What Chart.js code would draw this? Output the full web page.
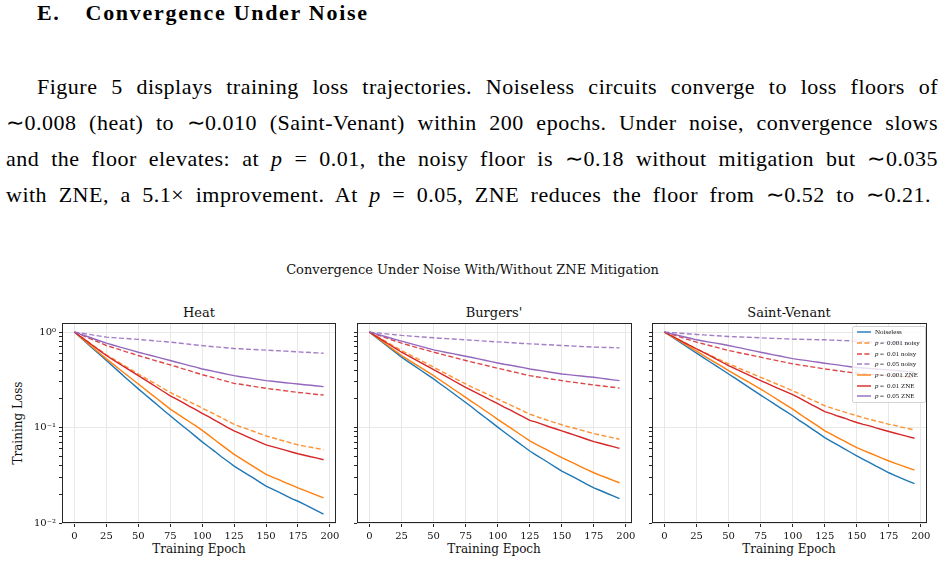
<!DOCTYPE html>
<html>
<head>
<meta charset="utf-8">
<script src="https://cdn.jsdelivr.net/npm/chart.js@4.4.1/dist/chart.umd.min.js"></script>
<style>
body { margin:0; width:945px; height:564px; background:#fff; position:relative; overflow:hidden; color:#000; }
.t { position:absolute; white-space:nowrap; }
.para { position:absolute; font-family:'Liberation Serif', serif; font-size:22px; line-height:36px; letter-spacing:0.5px; text-align:justify; text-align-last:justify; }
.fig { font-family:'DejaVu Serif', serif; color:#111; }
canvas { position:absolute; }
#legend { position:absolute; left:852px; top:326px; width:72px; height:75px; background:rgba(255,255,255,0.8);
  border:1px solid #d4d4d4; border-radius:2px; font-family:'Liberation Serif', serif; font-size:7px; color:#111; z-index:5; }
#legend .row { height:10.7px; display:flex; align-items:center; }
#legend svg { margin-left:4px; margin-right:4px; }
</style>
</head>
<body>

<div class="t" style="left:37px;top:0;line-height:30px;font:bold 22px 'Liberation Serif',serif;letter-spacing:1.7px">E.<span style="margin-left:25px">Convergence Under Noise</span></div>

<div class="para" style="left:37px;top:69px;width:901px">Figure 5 displays training loss trajectories. Noiseless circuits converge to loss floors of</div>
<div class="para" style="left:6px;top:105px;width:932px">∼0.008 (heat) to ∼0.010 (Saint-Venant) within 200 epochs. Under noise, convergence slows</div>
<div class="para" style="left:6px;top:141px;width:932px">and the floor elevates: at <i>p</i> = 0.01, the noisy floor is ∼0.18 without mitigation but ∼0.035</div>
<div class="para" style="left:6px;top:177px;width:925px">with ZNE, a 5.1× improvement. At <i>p</i> = 0.05, ZNE reduces the floor from ∼0.52 to ∼0.21.</div>

<div class="t fig" style="left:0;width:945px;text-align:center;top:262px;line-height:16px;font-size:13px">Convergence Under Noise With/Without ZNE Mitigation</div>

<div class="t fig" style="left:149px;width:100px;text-align:center;top:305px;line-height:16px;font-size:13px">Heat</div>
<div class="t fig" style="left:444px;width:100px;text-align:center;top:305px;line-height:16px;font-size:13px">Burgers'</div>
<div class="t fig" style="left:739px;width:100px;text-align:center;top:305px;line-height:16px;font-size:13px">Saint-Venant</div>

<div class="t fig" style="left:-42px;width:120px;text-align:center;top:415px;line-height:16px;font-size:12px;transform:rotate(-90deg)">Training Loss</div>
<div class="t fig" style="left:139px;width:120px;text-align:center;top:541px;line-height:16px;font-size:12px">Training Epoch</div>
<div class="t fig" style="left:434px;width:120px;text-align:center;top:541px;line-height:16px;font-size:12px">Training Epoch</div>
<div class="t fig" style="left:729px;width:120px;text-align:center;top:541px;line-height:16px;font-size:12px">Training Epoch</div>

<canvas id="heat" width="326" height="234" style="left:22px;top:313px"></canvas>
<canvas id="burgers" width="327" height="234" style="left:317px;top:313px"></canvas>
<canvas id="sv" width="327" height="234" style="left:612px;top:313px"></canvas>
<div id="legend"></div>

<script>
const epochs = [0,5,10,15,20,25,30,35,40,45,50,55,60,65,70,75,80,85,90,95,100,105,110,115,120,125,130,135,140,145,150,155,160,165,170,175,180,185,190,195];
const xTicks = [0,25,50,75,100,125,150,175,200];
const yTicks = [0.01,0.02,0.03,0.04,0.05,0.06,0.07,0.08,0.09,0.1,0.2,0.3,0.4,0.5,0.6,0.7,0.8,0.9,1];
const yMajorLabels = {1: '10⁰', 0.1: '10⁻¹', 0.01: '10⁻²'};
const seriesNames = ['Noiseless','p = 0.001 noisy','p = 0.01 noisy','p = 0.05 noisy','p = 0.001 ZNE','p = 0.01 ZNE','p = 0.05 ZNE'];
const colors = ['#1f77b4','rgba(255,127,14,0.85)','rgba(214,39,40,0.85)','rgba(148,103,189,0.85)','#ff7f0e','#d62728','#9467bd'];
const dashed = [false,true,true,true,false,false,false];

// Heat
const heatNoiseless = [1.000,0.871,0.760,0.662,0.578,0.504,0.439,0.383,0.333,0.291,0.254,0.223,0.196,0.172,0.151,0.133,0.117,0.103,0.0915,0.0803,0.0708,0.0630,0.0560,0.0494,0.0444,0.0394,0.0358,0.0325,0.0297,0.0268,0.0243,0.0226,0.0210,0.0195,0.0180,0.0169,0.0157,0.0145,0.0134,0.0124];
const heatNoisy001 = [1.000,0.896,0.802,0.719,0.644,0.577,0.526,0.480,0.438,0.399,0.364,0.333,0.305,0.279,0.255,0.233,0.216,0.201,0.186,0.173,0.160,0.148,0.137,0.127,0.117,0.108,0.102,0.0968,0.0914,0.0865,0.0817,0.0782,0.0748,0.0718,0.0687,0.0658,0.0638,0.0621,0.0603,0.0586];
const heatNoisy01 = [1.000,0.938,0.879,0.824,0.773,0.724,0.690,0.658,0.625,0.596,0.568,0.542,0.519,0.495,0.474,0.453,0.433,0.412,0.394,0.375,0.358,0.344,0.330,0.316,0.303,0.290,0.284,0.277,0.270,0.264,0.258,0.252,0.248,0.243,0.238,0.233,0.230,0.226,0.222,0.219];
const heatNoisy05 = [1.000,0.975,0.953,0.929,0.908,0.885,0.875,0.865,0.857,0.847,0.838,0.826,0.817,0.805,0.796,0.785,0.773,0.759,0.746,0.733,0.721,0.711,0.701,0.692,0.682,0.673,0.668,0.662,0.658,0.652,0.647,0.641,0.637,0.631,0.627,0.621,0.615,0.611,0.605,0.601];
const heatZne001 = [1.000,0.879,0.773,0.678,0.596,0.524,0.464,0.411,0.364,0.323,0.286,0.253,0.224,0.199,0.176,0.156,0.141,0.127,0.115,0.104,0.0933,0.0832,0.0741,0.0659,0.0587,0.0524,0.0475,0.0432,0.0392,0.0356,0.0323,0.0303,0.0284,0.0265,0.0249,0.0233,0.0220,0.0207,0.0195,0.0183];
const heatZne01 = [1.000,0.893,0.798,0.711,0.635,0.568,0.515,0.468,0.425,0.385,0.350,0.318,0.288,0.261,0.237,0.215,0.198,0.182,0.167,0.154,0.141,0.130,0.119,0.109,0.100,0.0923,0.0863,0.0805,0.0753,0.0703,0.0658,0.0631,0.0604,0.0579,0.0555,0.0532,0.0513,0.0494,0.0478,0.0460];
const heatZne05 = [1.000,0.948,0.899,0.851,0.807,0.766,0.733,0.701,0.671,0.643,0.615,0.592,0.568,0.546,0.524,0.504,0.483,0.465,0.446,0.429,0.411,0.398,0.385,0.373,0.361,0.350,0.341,0.333,0.325,0.318,0.310,0.305,0.300,0.295,0.290,0.286,0.281,0.277,0.272,0.268];

// Burgers'
const burgersNoiseless = [1.000,0.885,0.785,0.695,0.617,0.546,0.491,0.443,0.398,0.359,0.323,0.288,0.258,0.230,0.205,0.183,0.163,0.144,0.128,0.114,0.101,0.0897,0.0800,0.0713,0.0637,0.0568,0.0515,0.0468,0.0425,0.0385,0.0350,0.0323,0.0298,0.0274,0.0253,0.0233,0.0219,0.0205,0.0192,0.0180];
const burgersNoisy001 = [1.000,0.915,0.838,0.766,0.701,0.641,0.592,0.546,0.504,0.465,0.429,0.395,0.365,0.336,0.310,0.286,0.265,0.247,0.230,0.214,0.199,0.185,0.172,0.160,0.149,0.138,0.131,0.124,0.118,0.112,0.107,0.102,0.0982,0.0940,0.0902,0.0865,0.0836,0.0807,0.0780,0.0753];
const burgersNoisy01 = [1.000,0.948,0.899,0.851,0.807,0.766,0.733,0.701,0.671,0.643,0.615,0.592,0.568,0.546,0.524,0.504,0.485,0.468,0.450,0.434,0.418,0.404,0.389,0.376,0.362,0.350,0.341,0.333,0.325,0.318,0.310,0.303,0.297,0.291,0.285,0.279,0.274,0.269,0.264,0.259];
const burgersNoisy05 = [1.000,0.984,0.968,0.953,0.938,0.923,0.912,0.902,0.891,0.881,0.871,0.863,0.855,0.846,0.838,0.830,0.822,0.813,0.805,0.796,0.789,0.782,0.774,0.767,0.760,0.753,0.748,0.741,0.736,0.730,0.724,0.718,0.713,0.706,0.701,0.695,0.692,0.690,0.687,0.684];
const burgersZne001 = [1.000,0.893,0.798,0.711,0.635,0.568,0.515,0.468,0.425,0.385,0.350,0.315,0.284,0.255,0.230,0.207,0.186,0.168,0.151,0.136,0.122,0.110,0.0993,0.0893,0.0805,0.0724,0.0668,0.0617,0.0568,0.0524,0.0483,0.0449,0.0418,0.0388,0.0361,0.0336,0.0316,0.0298,0.0280,0.0264];
const burgersZne01 = [1.000,0.908,0.824,0.746,0.678,0.615,0.566,0.520,0.479,0.440,0.405,0.372,0.341,0.313,0.287,0.264,0.244,0.225,0.208,0.192,0.178,0.164,0.152,0.140,0.129,0.119,0.114,0.108,0.102,0.0971,0.0923,0.0877,0.0832,0.0791,0.0750,0.0713,0.0684,0.0656,0.0631,0.0605];
const burgersZne05 = [1.000,0.957,0.916,0.877,0.839,0.804,0.771,0.740,0.708,0.679,0.652,0.632,0.612,0.594,0.575,0.558,0.541,0.524,0.507,0.491,0.475,0.461,0.449,0.436,0.424,0.411,0.401,0.392,0.382,0.373,0.364,0.358,0.352,0.347,0.341,0.336,0.329,0.323,0.316,0.310];

// Saint-Venant
const svNoiseless = [1.000,0.904,0.817,0.736,0.665,0.601,0.543,0.492,0.445,0.403,0.364,0.329,0.297,0.268,0.242,0.219,0.198,0.179,0.162,0.147,0.133,0.119,0.108,0.0968,0.0873,0.0785,0.0718,0.0658,0.0601,0.0551,0.0504,0.0465,0.0429,0.0394,0.0364,0.0336,0.0314,0.0294,0.0275,0.0258];
const svNoisy001 = [1.000,0.923,0.851,0.785,0.724,0.668,0.621,0.578,0.537,0.500,0.465,0.436,0.408,0.382,0.358,0.336,0.315,0.295,0.277,0.259,0.243,0.226,0.210,0.195,0.182,0.169,0.161,0.153,0.146,0.139,0.133,0.127,0.122,0.117,0.113,0.108,0.105,0.101,0.0977,0.0944];
const svNoisy01 = [1.000,0.953,0.908,0.865,0.824,0.785,0.754,0.724,0.695,0.668,0.641,0.621,0.601,0.582,0.564,0.546,0.528,0.512,0.495,0.480,0.465,0.453,0.443,0.432,0.422,0.411,0.403,0.394,0.385,0.378,0.370,0.366,0.361,0.358,0.354,0.350,0.346,0.343,0.339,0.336];
const svNoisy05 = [1.000,0.989,0.977,0.966,0.955,0.944,0.935,0.927,0.917,0.908,0.900,0.893,0.887,0.883,0.877,0.871,0.865,0.859,0.855,0.849,0.844,0.841,0.838,0.836,0.832,0.830,0.824,0.818,0.815,0.809,0.804,0.798,0.793,0.789,0.783,0.778,0.774,0.773,0.769,0.766];
const svZne001 = [1.000,0.912,0.832,0.759,0.692,0.631,0.574,0.522,0.476,0.434,0.394,0.361,0.330,0.303,0.277,0.253,0.230,0.209,0.189,0.172,0.156,0.140,0.126,0.114,0.103,0.0923,0.0851,0.0785,0.0723,0.0667,0.0615,0.0577,0.0541,0.0507,0.0475,0.0446,0.0422,0.0399,0.0378,0.0358];
const svZne01 = [1.000,0.921,0.848,0.781,0.720,0.665,0.617,0.569,0.525,0.483,0.446,0.414,0.385,0.358,0.333,0.310,0.290,0.270,0.253,0.236,0.221,0.204,0.188,0.173,0.160,0.147,0.140,0.132,0.126,0.119,0.113,0.108,0.104,0.0991,0.0948,0.0908,0.0871,0.0838,0.0804,0.0773];
const svZne05 = [1.000,0.964,0.929,0.893,0.861,0.830,0.807,0.785,0.766,0.745,0.724,0.701,0.679,0.656,0.635,0.615,0.597,0.578,0.561,0.543,0.527,0.515,0.505,0.493,0.483,0.472,0.462,0.453,0.443,0.434,0.425,0.420,0.415,0.411,0.406,0.402,0.396,0.391,0.385,0.379];

const panels = [
  {id: 'heat', yLabels: true, series: [heatNoiseless, heatNoisy001, heatNoisy01, heatNoisy05, heatZne001, heatZne01, heatZne05]},
  {id: 'burgers', yLabels: false, series: [burgersNoiseless, burgersNoisy001, burgersNoisy01, burgersNoisy05, burgersZne001, burgersZne01, burgersZne05]},
  {id: 'sv', yLabels: false, series: [svNoiseless, svNoisy001, svNoisy01, svNoisy05, svZne001, svZne01, svZne05]}
];

// box round the plot area, drawn over the lines like matplotlib spines
const frame = {
  id: 'frame',
  afterDatasetsDraw(chart){
    const {ctx, chartArea: a} = chart;
    ctx.save();
    ctx.strokeStyle = '#262626';
    ctx.lineWidth = 1;
    ctx.strokeRect(a.left + 0.5, a.top + 0.5, a.width - 1, a.height - 1);
    ctx.restore();
  }
};

const tickFont = {family: 'DejaVu Serif', size: 10};

function makeChart(p){
  const datasets = p.series.map((vals, i) => ({
    label: seriesNames[i],
    data: vals.map((v, j) => ({x: epochs[j], y: v})),
    borderColor: colors[i],
    borderWidth: 1.4,
    borderDash: dashed[i] ? [5, 2.5] : [],
    pointRadius: 0,
    tension: 0,
    fill: false,
    order: p.series.length - i
  }));
  new Chart(document.getElementById(p.id), {
    type: 'line',
    data: {datasets},
    plugins: [frame],
    options: {
      responsive: false,
      animation: false,
      layout: {padding: {top: 10, right: 12, left: 0, bottom: 0}},
      plugins: {legend: {display: false}, tooltip: {enabled: false}, title: {display: false}},
      scales: {
        x: {
          type: 'linear', min: -9.75, max: 204.75,
          afterBuildTicks: s => { s.ticks = xTicks.map(v => ({value: v})); },
          afterFit: s => { s.height = 24; },
          border: {display: false},
          grid: {color: '#e8e8e8', lineWidth: 1, tickColor: '#262626', tickLength: 4},
          ticks: {font: tickFont, color: '#111', padding: 3, maxRotation: 0, autoSkip: false}
        },
        y: {
          type: 'logarithmic', min: 0.01, max: 1.245,
          afterBuildTicks: s => { s.ticks = yTicks.map(v => ({value: v})); },
          afterFit: s => { s.width = 40; },
          border: {display: false},
          grid: {
            color: ctx => (ctx.tick && yMajorLabels[ctx.tick.value]) ? '#e8e8e8' : 'rgba(0,0,0,0)',
            lineWidth: 1, tickColor: '#262626', tickLength: 3
          },
          ticks: {
            font: tickFont, color: '#111', padding: 3, autoSkip: false,
            callback: v => p.yLabels ? (yMajorLabels[v] || '') : ''
          }
        }
      }
    }
  });
}

panels.forEach(makeChart);

// legend of the last panel
let html = '';
seriesNames.forEach((name, i) => {
  const dash = dashed[i] ? ' stroke-dasharray="5 2.4"' : '';
  html += '<div class="row"><svg width="14" height="4"><line x1="0" y1="2" x2="14" y2="2" stroke="' + colors[i] + '" stroke-width="1.4"' + dash + '/></svg>' +
    '<span>' + name.replace(/^p =/, '<i>p</i>&thinsp;=&thinsp;') + '</span></div>';
});
document.getElementById('legend').innerHTML = html;
</script>
</body>
</html>
